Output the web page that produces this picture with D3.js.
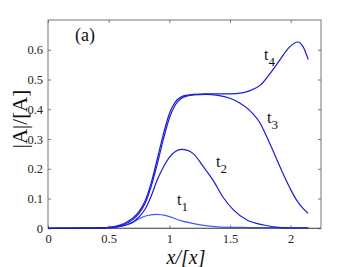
<!DOCTYPE html>
<html><head><meta charset="utf-8">
<script src="https://cdn.jsdelivr.net/npm/d3@7"></script>
<style>body{margin:0;background:#fff}svg{display:block}</style>
</head><body>
<script>
const xTicks = [0, 0.5, 1, 1.5, 2];
const yTicks = [0, 0.1, 0.2, 0.3, 0.4, 0.5, 0.6];
const xTickLabels = ["0", "0.5", "1", "1.5", "2"];
const yTickLabels = ["0", "0.1", "0.2", "0.3", "0.4", "0.5", "0.6"];

const t1x = [0, 0.4, 0.5, 0.6, 0.65, 0.7, 0.76, 0.82, 0.9, 0.98, 1.1, 1.2, 1.3, 1.4, 1.6, 1.8, 2.0, 2.145];
const t1y = [0, 0.0005, 0.002, 0.006, 0.012, 0.02, 0.034, 0.043, 0.047, 0.042, 0.025, 0.016, 0.009, 0.005, 0.003, 0.002, 0.002, 0.002];

const t2x = [0, 0.4, 0.5, 0.6, 0.7, 0.75, 0.8, 0.85, 0.9, 0.95, 1.0, 1.05, 1.1, 1.15, 1.2, 1.28, 1.36, 1.44, 1.53, 1.64, 1.78, 1.9, 2.0, 2.145];
const t2y = [0, 0.0005, 0.002, 0.007, 0.021, 0.038, 0.064, 0.108, 0.162, 0.205, 0.238, 0.258, 0.265, 0.262, 0.25, 0.207, 0.162, 0.106, 0.061, 0.028, 0.011, 0.003, 0.001, 0.001];

const t3x = [0, 0.4, 0.5, 0.6, 0.7, 0.75, 0.8, 0.85, 0.9, 0.95, 1.0, 1.05, 1.1, 1.15, 1.2, 1.3, 1.4, 1.5, 1.58, 1.66, 1.75, 1.8, 1.85, 1.9, 1.95, 2.0, 2.05, 2.1, 2.145];
const t3y = [0, 0.0005, 0.002, 0.009, 0.03, 0.05, 0.083, 0.14, 0.215, 0.298, 0.37, 0.415, 0.437, 0.445, 0.448, 0.45, 0.447, 0.437, 0.421, 0.397, 0.352, 0.31, 0.265, 0.218, 0.172, 0.13, 0.094, 0.068, 0.05];

const t4x = [0, 0.4, 0.5, 0.6, 0.7, 0.75, 0.8, 0.85, 0.9, 0.95, 1.0, 1.05, 1.1, 1.15, 1.2, 1.3, 1.4, 1.5, 1.6, 1.66, 1.75, 1.83, 1.91, 1.99, 2.057, 2.104, 2.145];
const t4y = [0, 0.0008, 0.003, 0.012, 0.035, 0.056, 0.092, 0.152, 0.232, 0.315, 0.385, 0.425, 0.442, 0.448, 0.45, 0.452, 0.452, 0.452, 0.455, 0.462, 0.481, 0.52, 0.565, 0.609, 0.626, 0.609, 0.567];

const seriesNames = ["t1", "t2", "t3", "t4"];
const seriesX = [t1x, t2x, t3x, t4x];
const seriesY = [t1y, t2y, t3y, t4y];
const seriesColors = ["#3d5cff", "#1c1cd4", "#1c1cd4", "#1c1cd4"];

const W = 354, H = 267;
const m = {l: 48, r: 33, t: 20, b: 38.7};
const svg = d3.select("body").append("svg").attr("width", W).attr("height", H);
const x = d3.scaleLinear().domain([0, 2.25]).range([m.l, W - m.r]);
const y = d3.scaleLinear().domain([0, 0.7]).range([H - m.b, m.t]);

const font = "'Liberation Serif', 'Times New Roman', Times, serif";

svg.append("rect").attr("x", x(0)).attr("y", y(0.7)).attr("width", x(2.25) - x(0)).attr("height", y(0) - y(0.7))
  .attr("fill", "none").attr("stroke", "#777").attr("stroke-width", 1);

const tl = 3;
function styleAxis(g) {
  g.select(".domain").remove();
  g.selectAll(".tick line").attr("stroke", "#777");
  g.selectAll(".tick text").style("font-family", font).attr("font-size", 12.5).attr("fill", "#222");
}
svg.append("g").attr("transform", `translate(0,${y(0)})`)
  .call(d3.axisBottom(x).tickValues(xTicks).tickFormat((d, i) => xTickLabels[i]).tickSizeInner(-tl).tickPadding(6))
  .call(styleAxis);
svg.append("g").attr("transform", `translate(0,${y(0.7)})`)
  .call(d3.axisTop(x).tickValues(xTicks).tickFormat("").tickSizeInner(-tl))
  .call(styleAxis);
svg.append("g").attr("transform", `translate(${x(0)},0)`)
  .call(d3.axisLeft(y).tickValues(yTicks).tickFormat((d, i) => yTickLabels[i]).tickSizeInner(-tl).tickPadding(5))
  .call(styleAxis);
svg.append("g").attr("transform", `translate(${x(2.25)},0)`)
  .call(d3.axisRight(y).tickValues(yTicks).tickFormat("").tickSizeInner(-tl))
  .call(styleAxis);

const line = d3.line().x(d => x(d[0])).y(d => y(d[1])).curve(d3.curveMonotoneX);
seriesNames.forEach((n, i) => {
  const pts = seriesX[i].map((v, j) => [v, seriesY[i][j]]);
  svg.append("path").datum(pts).attr("d", line).attr("fill", "none")
    .attr("stroke", seriesColors[i]).attr("stroke-width", 1.2);
});

svg.append("line").attr("x1", x(0)).attr("x2", x(2.25)).attr("y1", y(0)).attr("y2", y(0))
  .attr("stroke", "#222").attr("stroke-width", 1).attr("opacity", 0.5);

const lab = [[177, 205], [216, 167], [267, 123], [264, 60]];
seriesNames.forEach((n, i) => {
  const t = svg.append("text").attr("x", lab[i][0]).attr("y", lab[i][1])
    .style("font-family", font).attr("font-size", 16).attr("fill", "#111");
  t.append("tspan").text("t");
  t.append("tspan").attr("dy", 6).attr("font-size", 13).text(n.slice(1));
});

svg.append("text").attr("x", 75).attr("y", 41).style("font-family", font).attr("font-size", 18).attr("fill", "#111").text("(a)");

svg.append("text").attr("x", 186).attr("y", 264).attr("text-anchor", "middle")
  .style("font-family", font).attr("font-style", "italic").attr("font-size", 20).attr("fill", "#111").text("x/[x]");

svg.append("text").attr("transform", "translate(27,119) rotate(-90)").attr("text-anchor", "middle")
  .style("font-family", font).attr("font-size", 21).attr("fill", "#111").text("|A|/[A]");
</script>
</body></html>
